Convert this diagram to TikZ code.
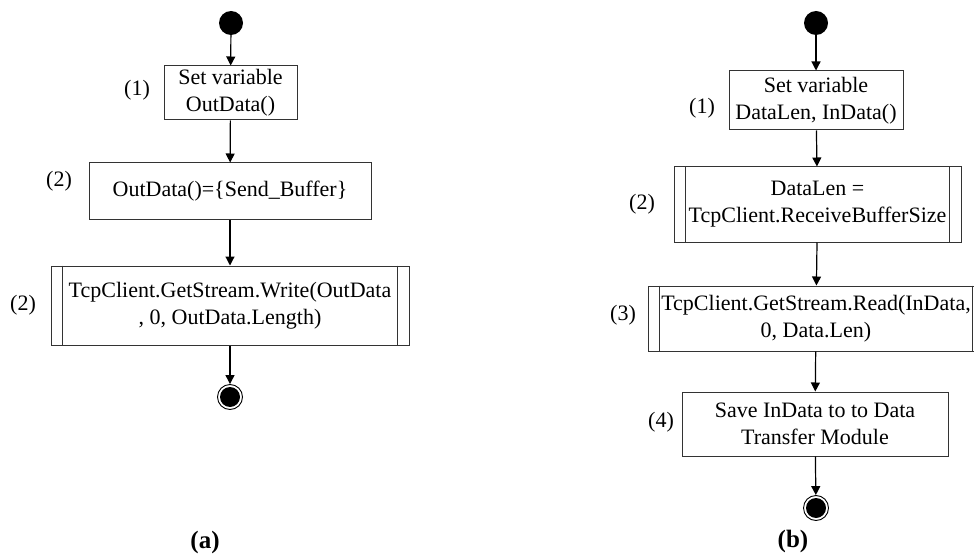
\documentclass[tikz,border=0pt]{standalone}
\usepackage{fontspec}
\setmainfont{Liberation Serif}
\usetikzlibrary{arrows.meta,calc}
\begin{document}
\begin{tikzpicture}[x=1pt,y=-1pt,
  font=\fontsize{22}{27}\selectfont,
  box/.style={draw=black!80,line width=1pt,rectangle,align=center,inner sep=0pt},
  subline/.style={draw=black!80,line width=1pt},
  startdot/.style={circle,fill=black,minimum size=24pt,inner sep=0pt},
  enddot/.style={circle,draw=black,line width=0.9pt,minimum size=25pt,inner sep=0pt,
    path picture={\fill[black] (path picture bounding box.center) circle (10pt);}},
  arr/.style={-{Triangle[length=9pt,width=9pt]},line width=1.2pt},
  lbl/.style={inner sep=0pt},
  capt/.style={inner sep=0pt,font=\fontsize{25}{30}\selectfont\bfseries}
]
\useasboundingbox (0,0) rectangle (974,556);

% ---------- (a) ----------
\node[startdot] (as) at (231,23) {};
\node[box,minimum width=133pt,minimum height=54pt] (a1) at (230.5,93) {Set variable\\OutData()};
\node[lbl] (la1) at (137,90) {(1)};
\node[box,minimum width=282pt,minimum height=56pt] (a2) at (230,191) {OutData()=\{Send\_Buffer\}};
\node[lbl] (la2) at (59,181) {(2)};
\node[box,minimum width=358pt,minimum height=79pt] (a3) at (230,305.5) {TcpClient.GetStream.Write(OutData\\, 0, OutData.Length)};
\draw[subline] ($(a3.north west)+(12,0)$) -- ($(a3.south west)+(12,0)$);
\draw[subline] ($(a3.north east)+(-12,0)$) -- ($(a3.south east)+(-12,0)$);
\node[lbl] (la3) at (23,305) {(2)};
\node[enddot] (ae) at (230,397) {};
\node[capt] (capa) at (205,542) {(a)};

\draw[arr] (as) -- (a1);
\draw[arr] (a1) -- (a2);
\draw[arr] (a2) -- (a3);
\draw[arr] (a3) -- (ae);

% ---------- (b) ----------
\node[startdot] (bs) at (816,23) {};
\node[box,minimum width=174pt,minimum height=59pt] (b1) at (816,100.5) {Set variable\\DataLen, InData()};
\node[lbl] (lb1) at (702,108) {(1)};
\node[box,minimum width=287pt,minimum height=75pt] (b2) at (817.5,204.5) {DataLen =\\TcpClient.ReceiveBufferSize};
\draw[subline] ($(b2.north west)+(12,0)$) -- ($(b2.south west)+(12,0)$);
\draw[subline] ($(b2.north east)+(-12,0)$) -- ($(b2.south east)+(-12,0)$);
\node[lbl] (lb2) at (642,204) {(2)};
\node[box,minimum width=336pt,minimum height=65pt] (b3) at (816,318.5) {TcpClient.GetStream.Read(InData,\\0, Data.Len)};
\draw[subline] ($(b3.north west)+(12,0)$) -- ($(b3.south west)+(12,0)$);
\draw[subline] ($(b3.north east)+(-12,0)$) -- ($(b3.south east)+(-12,0)$);
\node[lbl] (lb3) at (623,315) {(3)};
\node[box,minimum width=266pt,minimum height=64pt] (b4) at (815,424) {Save InData to to Data\\Transfer Module};
\node[lbl] (lb4) at (661,422) {(4)};
\node[enddot] (be) at (816,508) {};
\node[capt] (capb) at (793,541) {(b)};

\draw[arr] (bs) -- (b1);
\draw[arr] (b1) -- (b2);
\draw[arr] (b2) -- (b3);
\draw[arr] (b3) -- (b4);
\draw[arr] (b4) -- (be);
\end{tikzpicture}
\end{document}
